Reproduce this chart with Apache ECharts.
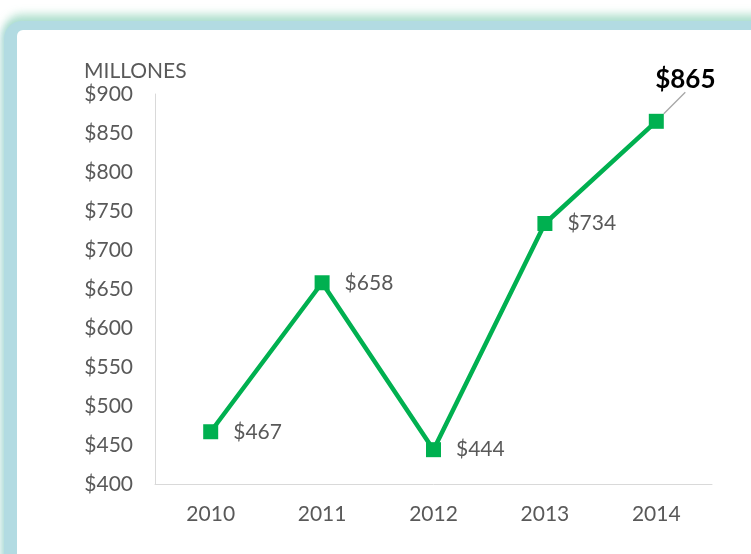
<!DOCTYPE html>
<html>
<head>
<meta charset="utf-8">
<script src="https://cdn.jsdelivr.net/npm/echarts@6/dist/echarts.min.js"></script>
<style>
  html, body { margin: 0; padding: 0; background: #ffffff; overflow: hidden; }
  #frame {
    position: absolute; left: 4px; top: 21px; width: 820px; height: 620px;
    background: #b2dbe2; border-radius: 18px;
    box-shadow: 0 -7px 9px rgba(160, 218, 195, 0.75), -3px 0 6px rgba(178, 219, 226, 0.8);
  }
  #panel {
    position: absolute; left: 17px; top: 30px; width: 800px; height: 600px;
    background: #ffffff; border-radius: 6px;
  }
  #chart { position: absolute; left: 0; top: 0; width: 751px; height: 554px; }
</style>
</head>
<body>
<div id="frame"></div>
<div id="panel"></div>
<div id="chart"></div>
<script>
const categories = ['2010', '2011', '2012', '2013', '2014'];
const values = [467, 658, 444, 734, 865];
const axisName = 'MILLONES';
const yMin = 400, yMax = 900, yStep = 50;

const font = 'Lato, "Open Sans", sans-serif';
const chart = echarts.init(document.getElementById('chart'), null, { renderer: 'canvas' });

const data = values.map((v, i) => {
  if (i === values.length - 1) {
    return {
      value: v,
      label: { position: 'inside', color: '#000000', fontWeight: 'bold', fontSize: 26 },
      labelLine: { show: true, lineStyle: { color: '#a6a6a6', width: 1.3 } }
    };
  }
  return v;
});

chart.setOption({
  backgroundColor: 'transparent',
  animation: false,
  title: {
    text: axisName, left: 79, top: 56,
    textStyle: { fontFamily: font, fontSize: 21, fontWeight: 'normal', color: '#595959' }
  },
  grid: { left: 155, right: 39, top: 94, bottom: 70 },
  xAxis: {
    type: 'category', data: categories, boundaryGap: true,
    axisLine: { show: true, lineStyle: { color: '#d9d9d9', width: 1 } },
    axisTick: { show: false },
    axisLabel: { fontFamily: font, fontSize: 21, color: '#595959', margin: 20 }
  },
  yAxis: {
    type: 'value', min: yMin, max: yMax, interval: yStep,
    axisLine: { show: true, lineStyle: { color: '#d9d9d9', width: 1 } },
    axisTick: { show: false },
    splitLine: { show: false },
    axisLabel: { fontFamily: font, fontSize: 21, color: '#595959', margin: 22,
      formatter: v => '$' + v }
  },
  series: [{
    type: 'line', data: data,
    symbol: 'rect', symbolSize: 15,
    lineStyle: { color: '#00b050', width: 4.5 },
    itemStyle: { color: '#00b050' },
    label: {
      show: true, position: 'right', distance: 15,
      fontFamily: font, fontSize: 21, color: '#595959',
      formatter: p => '$' + p.value
    },
    labelLayout: function (p) {
      if (p.dataIndex === values.length - 1) return { dx: 29, dy: -42 };
      return {};
    }
  }]
});
</script>
</body>
</html>
